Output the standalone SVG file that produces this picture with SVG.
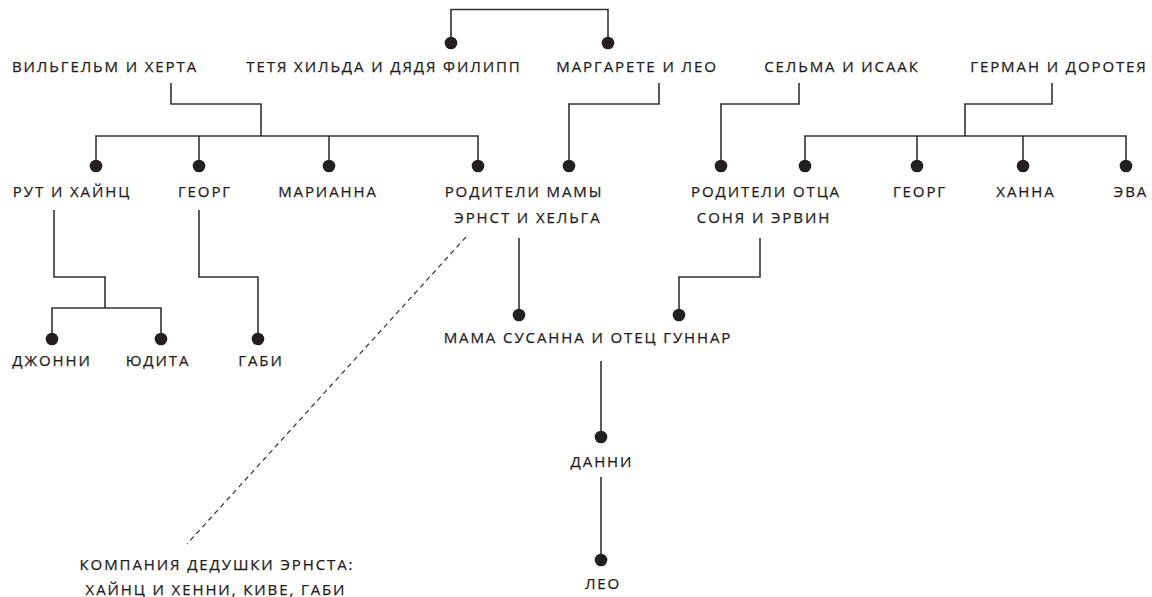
<svg xmlns="http://www.w3.org/2000/svg" width="1152" height="597" viewBox="0 0 1152 597">
<style>
text{font-family:"Open Sans","Noto Sans","Liberation Sans",sans-serif;font-size:15px;fill:#1e1c1d;letter-spacing:1.9px;text-anchor:middle;stroke:#1e1c1d;stroke-width:0.25px}
.c path,.c line{fill:none;stroke:#333;stroke-width:1.6}
.c .d{stroke-dasharray:5 4;stroke-width:1.2}
circle{fill:#231f20}
</style>
<rect width="1152" height="597" fill="#fff"/>
<g class="c" id="connectors">
<path d="M451,43V9.5H608V43"/>
<path d="M171,83V104H261V136M96,166V136H478V166M199,136V166M329,136V166"/>
<path d="M659,83V104H569V166"/>
<path d="M799,83V104H721V166"/>
<path d="M1052,83V104H965V136M805,166V136H1126V166M917,136V166M1023,136V166"/>
<path d="M54,210V277H105V308M52,339V308H161V339"/>
<path d="M199,210V277H258V339"/>
<path d="M519,238V315"/>
<path d="M760,238V277H679V315"/>
<path d="M601,361V437"/>
<path d="M601,477V560"/>
<line class="d" x1="466" y1="237" x2="187" y2="544"/>
</g>
<g id="n-top"><circle cx="451" cy="43" r="6.3"/><circle cx="608" cy="43" r="6.3"/></g>
<g id="n-wilhelm"><text x="105" y="72">ВИЛЬГЕЛЬМ И ХЕРТА</text></g>
<g id="n-hilda"><text x="384" y="72">ТЕТЯ ХИЛЬДА И ДЯДЯ ФИЛИПП</text></g>
<g id="n-margarete"><text x="637" y="72">МАРГАРЕТЕ И ЛЕО</text></g>
<g id="n-selma"><text x="842" y="72">СЕЛЬМА И ИСААК</text></g>
<g id="n-german"><text x="1059" y="72">ГЕРМАН И ДОРОТЕЯ</text></g>
<g id="n-rut"><circle cx="96" cy="166" r="6.3"/><text x="72" y="197">РУТ И ХАЙНЦ</text></g>
<g id="n-georg1"><circle cx="199" cy="166" r="6.3"/><text x="205" y="197">ГЕОРГ</text></g>
<g id="n-marianna"><circle cx="329" cy="166" r="6.3"/><text x="328" y="197">МАРИАННА</text></g>
<g id="n-mamaparents"><circle cx="478" cy="166" r="6.3"/><circle cx="569" cy="166" r="6.3"/><text x="524" y="197">РОДИТЕЛИ МАМЫ</text><text x="528" y="223">ЭРНСТ И ХЕЛЬГА</text></g>
<g id="n-papaparents"><circle cx="721" cy="166" r="6.3"/><circle cx="805" cy="166" r="6.3"/><text x="766" y="197">РОДИТЕЛИ ОТЦА</text><text x="764" y="223">СОНЯ И ЭРВИН</text></g>
<g id="n-georg2"><circle cx="917" cy="166" r="6.3"/><text x="920" y="197">ГЕОРГ</text></g>
<g id="n-hanna"><circle cx="1023" cy="166" r="6.3"/><text x="1026" y="197">ХАННА</text></g>
<g id="n-eva"><circle cx="1126" cy="166" r="6.3"/><text x="1131" y="197">ЭВА</text></g>
<g id="n-jonny"><circle cx="52" cy="339" r="6.3"/><text x="52" y="366">ДЖОННИ</text></g>
<g id="n-judita"><circle cx="161" cy="339" r="6.3"/><text x="158" y="366">ЮДИТА</text></g>
<g id="n-gabi"><circle cx="258" cy="339" r="6.3"/><text x="261" y="366">ГАБИ</text></g>
<g id="n-parents"><circle cx="519" cy="315" r="6.3"/><circle cx="679" cy="315" r="6.3"/><text x="588" y="343">МАМА СУСАННА И ОТЕЦ ГУННАР</text></g>
<g id="n-danni"><circle cx="601" cy="437" r="6.3"/><text x="602" y="467">ДАННИ</text></g>
<g id="n-leo"><circle cx="601" cy="560" r="6.3"/><text x="603" y="589">ЛЕО</text></g>
<g id="n-company"><text x="217" y="570">КОМПАНИЯ ДЕДУШКИ ЭРНСТА:</text><text x="216" y="595">ХАЙНЦ И ХЕННИ, КИВЕ, ГАБИ</text></g>
</svg>
